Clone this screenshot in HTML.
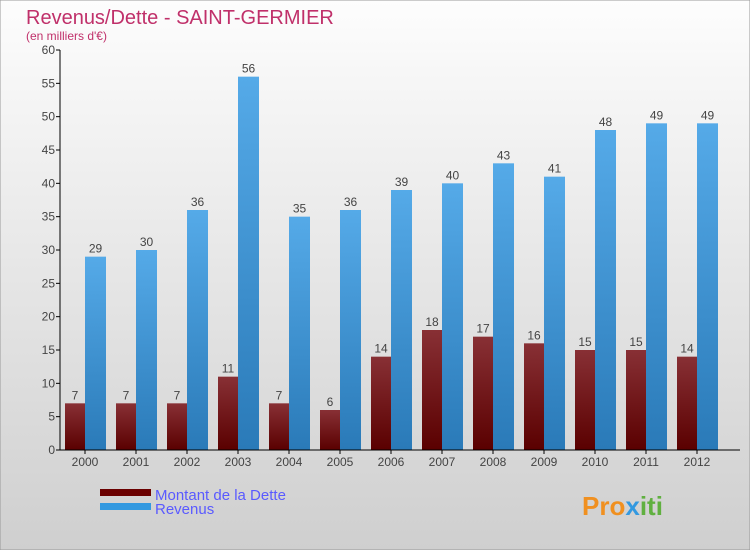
<!DOCTYPE html>
<html><head><meta charset="utf-8"><style>
body{margin:0;width:750px;height:550px;overflow:hidden}
svg{display:block;font-family:"Liberation Sans",sans-serif}
</style></head><body>
<svg id="c" width="750" height="550">
<defs>
<linearGradient id="bg" x1="0" y1="0" x2="0" y2="1"><stop offset="0" stop-color="#fdfdfd"/><stop offset="1" stop-color="#cfcfcf"/></linearGradient>
<linearGradient id="gd" x1="0" y1="0" x2="0" y2="1"><stop offset="0" stop-color="#883035"/><stop offset="1" stop-color="#5a0000"/></linearGradient>
<linearGradient id="gr" x1="0" y1="0" x2="0" y2="1"><stop offset="0" stop-color="#55aae8"/><stop offset="1" stop-color="#2a7ab8"/></linearGradient>
</defs>
<rect width="750" height="550" fill="url(#bg)" stroke="#999"/>
<text x="26" y="24" font-size="20" fill="#c0306a">Revenus/Dette - SAINT-GERMIER</text>
<text x="26" y="40" font-size="12" fill="#c0306a">(en milliers d'€)</text>
<g id="plot"></g>
<rect x="100" y="489" width="51" height="7" fill="#6a0000"/>
<text x="155" y="500" font-size="15" fill="#5a5aff">Montant de la Dette</text>
<rect x="100" y="503" width="51" height="7" fill="#3399e0"/>
<text x="155" y="514" font-size="15" fill="#5a5aff">Revenus</text>
<text x="582" y="515" font-size="26" font-weight="bold" fill="#f09020">Pro<tspan fill="#3399e0">x</tspan><tspan fill="#60b040">iti</tspan></text>
</svg>
<script>
const years=["2000","2001","2002","2003","2004","2005","2006","2007","2008","2009","2010","2011","2012"];
const dette=[7,7,7,11,7,6,14,18,17,16,15,15,14];
const revenus=[29,30,36,56,35,36,39,40,43,41,48,49,49];
const yTicks=[0,5,10,15,20,25,30,35,40,45,50,55,60];
const NS="http://www.w3.org/2000/svg";
const g=document.getElementById('plot');
const y0=450,yTop=50,yMax=60;
const yS=v=>y0-(v/yMax)*(y0-yTop);
const xC=i=>85+i*51;
function mk(t,a,txt){const e=document.createElementNS(NS,t);for(const k in a)e.setAttribute(k,a[k]);if(txt!==undefined)e.textContent=txt;g.appendChild(e);return e;}
yTicks.forEach(v=>{
 const l=mk('line',{x1:56,x2:60,y1:yS(v),y2:yS(v),stroke:'#000'});
 
 
 const t=mk('text',{x:55,y:yS(v)+4,'font-size':12,fill:'#444','text-anchor':'end'},v);
 
 
});
years.forEach((yr,i)=>{
 const c=xC(i);
 const bd=mk('rect',{x:c-20,y:yS(dette[i]),width:20,height:y0-yS(dette[i]),fill:'url(#gd)'});
 
 
 const br=mk('rect',{x:c,y:yS(revenus[i]),width:21,height:y0-yS(revenus[i]),fill:'url(#gr)'});
 
 
 const ld=mk('text',{x:c-10,y:yS(dette[i])-4,'font-size':12,fill:'#444','text-anchor':'middle'},dette[i]);
 
 
 const lr=mk('text',{x:c+10.5,y:yS(revenus[i])-4,'font-size':12,fill:'#444','text-anchor':'middle'},revenus[i]);
 
 
 const tk=mk('line',{x1:c,x2:c,y1:450,y2:454,stroke:'#000'});
 
 
 const xl=mk('text',{x:c,y:466,'font-size':12,fill:'#444','text-anchor':'middle'},yr);
 
 
});
const ya=mk('line',{x1:60,x2:60,y1:50,y2:450,stroke:'#000'});


const xa=mk('line',{x1:60,x2:740,y1:450,y2:450,stroke:'#000'});


</script>
</body></html>
